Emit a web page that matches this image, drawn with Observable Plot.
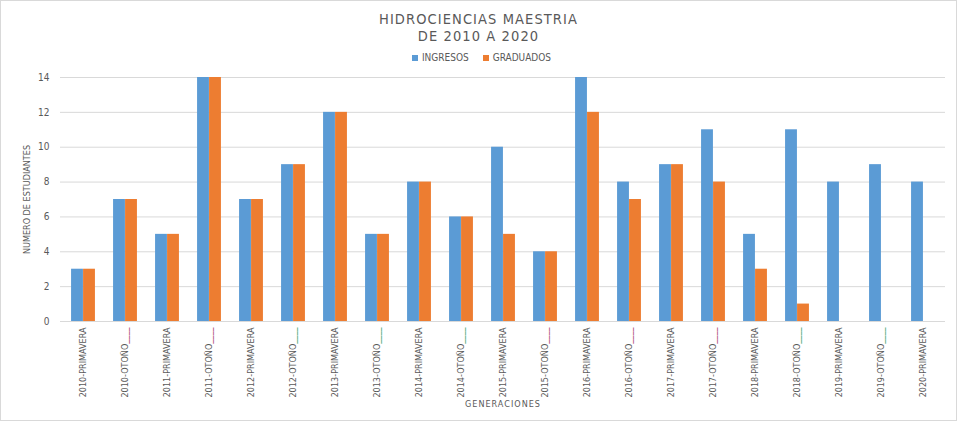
<!DOCTYPE html>
<html><head><meta charset="utf-8">
<script src="https://cdn.jsdelivr.net/npm/d3@7"></script>
<script src="https://cdn.jsdelivr.net/npm/@observablehq/plot@0.6"></script>
<style>
body{margin:0;background:#fff;}
#chart{position:relative;width:957px;height:421px;border:1px solid #d9d9d9;box-sizing:border-box;background:#fff;
  font-family:'DejaVu Sans Condensed','Liberation Sans Narrow',sans-serif;color:#595959;}
#head{position:relative;height:67px;}
.t{position:absolute;left:0;right:0;text-align:center;font-size:14.5px;line-height:17px;white-space:nowrap;letter-spacing:1.1px;}
#legend{position:absolute;left:0;right:0;top:51px;text-align:center;font-size:10px;line-height:12px;padding-left:6px;}
#legend span.item{display:inline-block;margin:0 7px;}
#legend i{display:inline-block;width:6px;height:6px;margin-right:4px;vertical-align:0px;}
svg{display:block;}
</style></head>
<body>
<div id="chart">
  <div id="head">
    <div class="t" style="top:10px">HIDROCIENCIAS MAESTRIA</div>
    <div class="t" style="top:27px">DE 2010 A 2020</div>
    <div id="legend"></div>
  </div>
</div>
<script>
const categories = ["2010-PRIMAVERA","2010-OTOÑO","2011-PRIMAVERA","2011-OTOÑO","2012-PRIMAVERA","2012-OTOÑO","2013-PRIMAVERA","2013-OTOÑO","2014-PRIMAVERA","2014-OTOÑO","2015-PRIMAVERA","2015-OTOÑO","2016-PRIMAVERA","2016-OTOÑO","2017-PRIMAVERA","2017-OTOÑO","2018-PRIMAVERA","2018-OTOÑO","2019-PRIMAVERA","2019-OTOÑO","2020-PRIMAVERA"];
const ingresos  = [3,7,5,14,7,9,12,5,8,6,10,4,14,8,9,11,5,11,8,9,8];
const graduados = [3,7,5,14,7,9,12,5,8,6,5,4,12,7,9,8,3,1,null,null,null];
const seriesNames = ["INGRESOS","GRADUADOS"];
const yTicks = [0,2,4,6,8,10,12,14];

const colors = {INGRESOS:"#5b9bd5", GRADUADOS:"#ed7d31"};
const underscoreColor = {"2010":"#b0507a","2011":"#b0507a","2015":"#b0507a","2016":"#b0507a","2017":"#b0507a",
                         "2012":"#4fa878","2013":"#4fa878","2014":"#4fa878","2018":"#4fa878","2019":"#4fa878"};
const font = "'DejaVu Sans Condensed','Liberation Sans Narrow',sans-serif";

// legend
const lg = document.getElementById("legend");
seriesNames.forEach(s => {
  const sp = document.createElement("span"); sp.className = "item";
  sp.innerHTML = `<i style="background:${colors[s]}"></i>${s}`;
  lg.appendChild(sp);
});

const rows = categories.map((c,i) => ({cat:c, ing:ingresos[i], grad:graduados[i]}));
const W = 955, H = 352, ML = 59, MR = 11;
const step = (W - ML - MR) / categories.length;
const barW = 12;
const half = step/2;

const plot = Plot.plot({
  width: W, height: H,
  marginLeft: ML, marginRight: MR, marginTop: 9, marginBottom: 99,
  style: {fontFamily: font, color: "#595959", background: "#fff", overflow: "visible"},
  x: {domain: categories, padding: 0},
  y: {domain: [0,14]},
  marks: [
    Plot.ruleY(yTicks.filter(d => d > 0), {stroke:"#d9d9d9", strokeWidth:1}),
    Plot.barY(rows, {x:"cat", y:"ing", fill: colors.INGRESOS, insetLeft: half - barW, insetRight: half}),
    Plot.barY(rows.filter(d => d.grad != null), {x:"cat", y:"grad", fill: colors.GRADUADOS, insetLeft: half, insetRight: half - barW}),
    Plot.ruleY([0], {stroke:"#d9d9d9", strokeWidth:1}),
    Plot.axisX({tickSize:0, tickPadding:6, tickRotate:-90, fontSize:9,
      tickFormat: d => d.includes("OTOÑO") ? d + "____" : d,
      label:"GENERACIONES", labelAnchor:"center", labelOffset:85, labelArrow:"none"}),
    Plot.axisY({ticks: yTicks, tickSize:0, tickPadding:11, fontSize:10,
      label:"NUMERO DE ESTUDIANTES", labelAnchor:"center", labelOffset:37, labelArrow:"none"})
  ]
});
document.getElementById("chart").appendChild(plot);

// colour the trailing underscores of the OTOÑO labels
d3.select(plot).selectAll('g[aria-label="x-axis tick label"] text').each(function(){
  const t = this.textContent;
  if (t.endsWith("____")) {
    const base = t.slice(0, -4);
    this.textContent = base;
    d3.select(this).append("tspan").attr("fill", underscoreColor[base.slice(0,4)] || "#595959").attr("font-weight","bold").text("____");
  }
});
d3.select(plot).selectAll('g[aria-label="x-axis label"] text').style("letter-spacing","1px").style("font-size","9px");
d3.select(plot).selectAll('g[aria-label="y-axis label"] text').style("font-size","9px");
</script>
</body></html>
